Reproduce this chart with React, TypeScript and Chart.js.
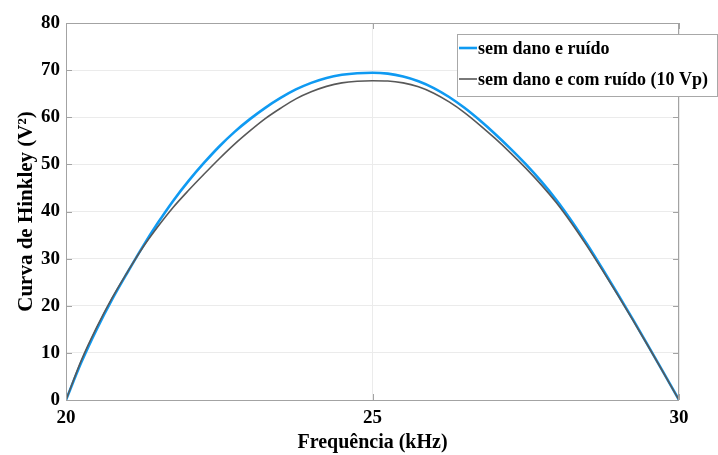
import React, { useEffect, useRef } from "react";
import { Chart, registerables } from "chart.js";

Chart.register(...registerables);

const freqs = [
  20, 20.25, 20.5, 20.75, 21, 21.25, 21.5, 21.75, 22, 22.25, 22.5, 22.75, 23, 23.25, 23.5, 23.75,
  24, 24.25, 24.5, 24.75, 25, 25.25, 25.5, 25.75, 26, 26.25, 26.5, 26.75, 27, 27.25, 27.5, 27.75,
  28, 28.25, 28.5, 28.75, 29, 29.25, 29.5, 29.75, 30,
];

const semRuido = [
  0, 8.0, 15.0, 21.3, 27.0, 32.5, 37.6, 42.3, 46.5, 50.3, 53.8, 56.9, 59.6, 62.0, 64.1, 65.9,
  67.3, 68.35, 69.0, 69.35, 69.45, 69.25, 68.65, 67.65, 66.2, 64.3, 62.0, 59.35, 56.45, 53.35,
  50.05, 46.45, 42.45, 37.95, 33.05, 27.85, 22.5, 17.05, 11.45, 5.75, 0,
];

const comRuido = [
  0, 8.4, 15.4, 21.6, 27.1, 32.3, 36.8, 40.9, 44.5, 47.9, 51.2, 54.3, 57.1, 59.7, 61.9, 63.9,
  65.4, 66.55, 67.3, 67.65, 67.75, 67.7, 67.3, 66.45, 65.1, 63.25, 61.0, 58.35, 55.5, 52.45,
  49.2, 45.7, 41.85, 37.45, 32.65, 27.55, 22.3, 16.9, 11.35, 5.7, 0,
];

const seriesLabels = ["sem dano e ruído", "sem dano e com ruído (10 Vp)"];
const seriesColors = ["#0f9af2", "#585858"];
const xTitle = "Frequência (kHz)";
const yTitle = "Curva de Hinkley (V²)";

const FONT = "'Liberation Serif', 'Times New Roman', serif";

const framePlugin = {
  id: "framePlugin",
  afterDraw(chart: any) {
    const { ctx, chartArea } = chart;
    const { left, top, right, bottom } = chartArea;
    const xs = chart.scales.x;
    const ys = chart.scales.y;
    ctx.save();
    ctx.strokeStyle = "#a3a3a3";
    ctx.lineWidth = 1;
    ctx.strokeRect(left + 0.5, top + 0.5, right - left - 1, bottom - top);
    ctx.beginPath();
    ys.ticks.forEach((t: any) => {
      const py = Math.round(ys.getPixelForValue(t.value)) + 0.5;
      ctx.moveTo(left, py);
      ctx.lineTo(left + 6, py);
      ctx.moveTo(right - 6, py);
      ctx.lineTo(right, py);
    });
    xs.ticks.forEach((t: any) => {
      const px = Math.round(xs.getPixelForValue(t.value)) + 0.5;
      ctx.moveTo(px, bottom);
      ctx.lineTo(px, bottom - 6);
      ctx.moveTo(px, top);
      ctx.lineTo(px, top + 6);
    });
    ctx.stroke();

    // legend
    const lx = right - 222;
    const ly = top + 11;
    const lw = 260;
    const lh = 62;
    ctx.fillStyle = "#ffffff";
    ctx.fillRect(lx, ly, lw, lh);
    ctx.strokeStyle = "#a8a8a8";
    ctx.strokeRect(lx + 0.5, ly + 0.5, lw, lh);
    ctx.font = `bold 18px ${FONT}`;
    ctx.textBaseline = "middle";
    ctx.textAlign = "left";
    chart.data.datasets.forEach((ds: any, i: number) => {
      const rowY = ly + 14 + i * 31;
      ctx.strokeStyle = ds.borderColor;
      ctx.lineWidth = ds.borderWidth;
      ctx.beginPath();
      ctx.moveTo(lx + 2, rowY);
      ctx.lineTo(lx + 20, rowY);
      ctx.stroke();
      ctx.fillStyle = "#000";
      ctx.fillText(ds.label, lx + 21, rowY + 1);
    });
    ctx.restore();
  },
};

export default function App() {
  const ref = useRef<HTMLCanvasElement>(null);

  useEffect(() => {
    if (!ref.current) return;
    const chart = new Chart(ref.current, {
      type: "line",
      data: {
        datasets: [
          {
            label: seriesLabels[0],
            data: freqs.map((f, i) => ({ x: f, y: semRuido[i] })),
            borderColor: seriesColors[0],
            borderWidth: 2.6,
            pointRadius: 0,
            cubicInterpolationMode: "monotone",
            order: 1,
          },
          {
            label: seriesLabels[1],
            data: freqs.map((f, i) => ({ x: f, y: comRuido[i] })),
            borderColor: seriesColors[1],
            borderWidth: 1.6,
            pointRadius: 0,
            cubicInterpolationMode: "monotone",
            order: 0,
          },
        ],
      },
      options: {
        animation: false,
        responsive: false,
        layout: { padding: { left: 0, right: 39, top: 23, bottom: 0 } },
        plugins: { legend: { display: false }, tooltip: { enabled: false } },
        scales: {
          x: {
            type: "linear",
            min: 20,
            max: 30,
            afterFit: (s: any) => {
              s.height = 55;
            },
            ticks: {
              stepSize: 5,
              padding: 7,
              color: "#000",
              font: { family: FONT, weight: "bold", size: 19 },
            },
            grid: { color: "#ebebeb", drawTicks: false },
            border: { display: false },
            title: {
              display: true,
              text: xTitle,
              color: "#000",
              padding: { top: 0, bottom: 0 },
              font: { family: FONT, weight: "bold", size: 20 },
            },
          },
          y: {
            type: "linear",
            min: 0,
            max: 80,
            afterFit: (s: any) => {
              s.width = 66;
            },
            ticks: {
              stepSize: 10,
              padding: 6,
              color: "#000",
              font: { family: FONT, weight: "bold", size: 19 },
            },
            grid: { color: "#ebebeb", drawTicks: false },
            border: { display: false },
            title: {
              display: true,
              text: yTitle,
              color: "#000",
              padding: { top: 14, bottom: 0 },
              font: { family: FONT, weight: "bold", size: 21 },
            },
          },
        },
      },
      plugins: [framePlugin],
    });
    return () => chart.destroy();
  }, []);

  return (
    <div style={{ position: "absolute", left: 0, top: 0, width: 718, height: 455, background: "#fff" }}>
      <canvas ref={ref} width={718} height={455} style={{ display: "block" }} />
    </div>
  );
}
